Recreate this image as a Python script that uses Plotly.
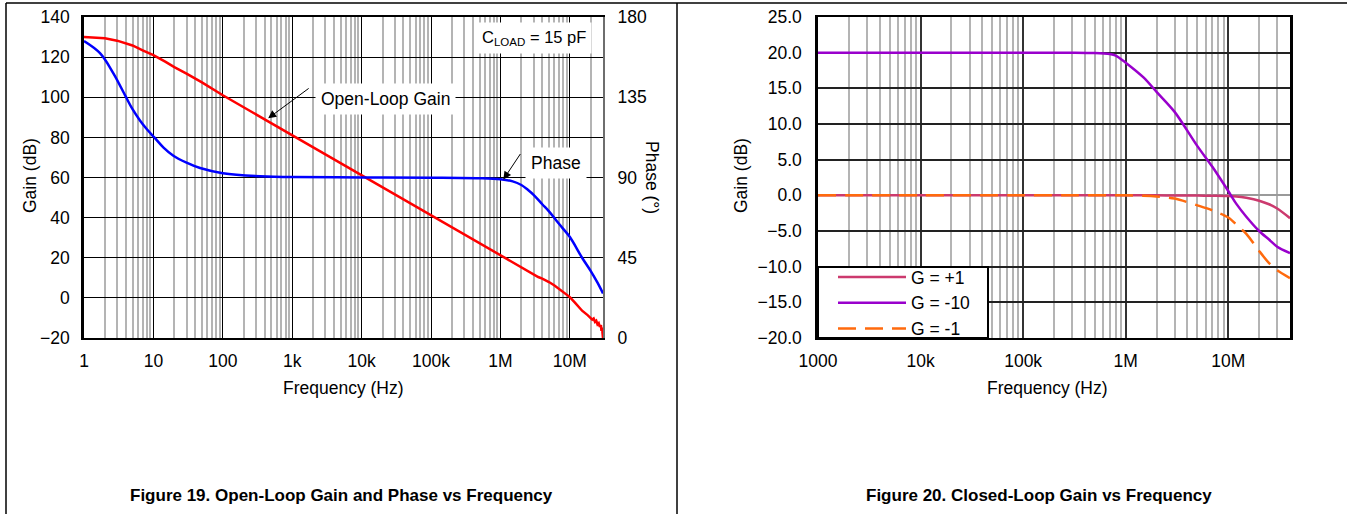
import math
import plotly.graph_objects as go

# ---------------- Data (Figure 19) ----------------
gain_freq = [1, 1.5, 2, 3, 4, 5, 7, 10, 15, 20, 30, 50, 100, 200, 500, 1e3, 2e3, 5e3, 1e4,
             2e4, 5e4, 1e5, 2e5, 5e5, 1e6, 2e6, 3e6, 3.5e6, 4e6, 4.5e6, 5e6, 6e6, 7e6, 8e6,
             1e7, 1.2e7, 1.5e7, 1.8e7, 2e7, 2.1e7, 2.2e7, 2.3e7, 2.4e7, 2.5e7, 2.6e7, 2.7e7,
             2.8e7, 2.85e7, 2.9e7, 2.95e7, 3e7]
gain_db = [130.0, 129.8, 129.4, 128.2, 127.0, 125.8, 123.4, 121.0, 117.6, 115.0, 111.8, 107.4,
           101.0, 95.0, 87.2, 81.2, 75.2, 67.3, 61.2, 55.2, 47.3, 41.3, 35.3, 27.4, 21.4, 15.2,
           11.6, 10.4, 9.6, 8.9, 7.9, 6.2, 4.5, 3.0, 0.4, -2.6, -6.4, -8.6, -9.8, -10.8, -10.3,
           -12.0, -11.4, -13.2, -12.6, -14.5, -13.6, -16.5, -14.8, -17.5, -20.0]

phase_freq = [1, 1.7, 2.65, 4, 5, 6.4, 8, 10.3, 14, 19.4, 30, 47, 100, 430, 1e3, 1e4, 1e5,
              5e5, 1e6, 1.5e6, 2e6, 2.5e6, 3e6, 4e6, 5e6, 6.5e6, 8e6, 1e7, 1.5e7, 2e7, 2.5e7,
              3e7]
phase_deg = [166.5, 159.7, 148.4, 135.3, 128.3, 122.0, 117.2, 112.5, 106.8, 102.2, 98.3,
             95.3, 92.4, 90.5, 90.3, 90.0, 89.9, 89.6, 89.0, 87.8, 85.8, 83.0, 80.3, 75.0,
             71.0, 65.5, 61.2, 56.6, 45.0, 37.5, 31.0, 25.0]

left_tick_vals = [1, 10, 100, 1e3, 1e4, 1e5, 1e6, 1e7]
left_tick_text = ["1", "10", "100", "1k", "10k", "100k", "1M", "10M"]
phase_tick_vals = [0, 45, 90, 135, 180]

# ---------------- Data (Figure 20) ----------------
cl_freq = [1e3, 1e4, 1e5, 3e5, 5e5, 7e5, 8e5, 1e6, 1.5e6, 2e6, 3e6, 5e6, 7e6, 1e7,
           1.2e7, 1.5e7, 2e7, 2.5e7, 3e7, 4e7]
g_plus1 = [0.0, 0.0, 0.0, 0.0, 0.0, 0.0, 0.0, 0.0, 0.0, 0.0, -0.02, -0.04, -0.05, -0.08,
           -0.15, -0.35, -0.75, -1.25, -1.85, -3.2]
g_minus10 = [20.0, 20.0, 20.0, 20.0, 19.95, 19.8, 19.6, 18.6, 16.5, 14.5, 11.7, 6.9, 4.0,
             0.6, -1.2, -3.0, -5.0, -6.2, -7.2, -8.1]
g_minus1 = [0.0, 0.0, 0.0, 0.0, 0.0, 0.0, 0.0, 0.0, -0.05, -0.15, -0.45, -1.4, -2.1, -3.1,
            -4.1, -5.4, -7.8, -9.5, -10.5, -11.6]

right_tick_vals = [1e3, 1e4, 1e5, 1e6, 1e7]
right_tick_text = ["1000", "10k", "100k", "1M", "10M"]

# ---------------- Geometry helpers ----------------
W, H = 1347, 514
FONT = "Liberation Sans, Arial, sans-serif"
FS = 17.5


def px(xp):
    return xp / W


def py(yp):
    return 1 - yp / H


def minor_vals(lo_exp, hi_exp):
    out = []
    for e in range(lo_exp, hi_exp + 1):
        for m in range(2, 10):
            out.append(m * 10 ** e)
    return out


fig = go.Figure()

fig.add_trace(go.Scatter(x=gain_freq, y=gain_db, mode="lines", xaxis="x", yaxis="y",
                         line=dict(color="#FF0000", width=2.5), showlegend=False))
fig.add_trace(go.Scatter(x=phase_freq, y=phase_deg, mode="lines", xaxis="x", yaxis="y2",
                         line=dict(color="#0000FF", width=2.5, shape="spline", smoothing=1.0),
                         showlegend=False))

fig.add_trace(go.Scatter(x=cl_freq, y=g_plus1, mode="lines", xaxis="x2", yaxis="y3",
                         name="G = +1",
                         line=dict(color="#CC3A6E", width=2.5, shape="spline", smoothing=0.8)))
fig.add_trace(go.Scatter(x=cl_freq, y=g_minus10, mode="lines", xaxis="x2", yaxis="y3",
                         name="G = -10",
                         line=dict(color="#9900CC", width=2.5, shape="spline", smoothing=0.8)))
fig.add_trace(go.Scatter(x=cl_freq, y=g_minus1, mode="lines", xaxis="x2", yaxis="y3",
                         name="G = -1",
                         line=dict(color="#FF6A0D", width=2.5, dash="18px,9px",
                                   shape="spline", smoothing=0.8)))

y_dom = [py(338), py(17)]
tickfont = dict(family=FONT, size=FS, color="black")
common_x = dict(type="log", showgrid=True, gridcolor="#000000", gridwidth=1,
                showline=True, linecolor="black", linewidth=2, mirror=True,
                ticks="outside", ticklen=6, tickcolor="rgba(0,0,0,0)",
                tickfont=tickfont, zeroline=False, automargin=False)

fig.update_layout(
    width=W, height=H,
    margin=dict(l=0, r=0, t=0, b=0, pad=0, autoexpand=False),
    paper_bgcolor="white", plot_bgcolor="white",
    font=dict(family=FONT, size=FS, color="black"),
    xaxis=dict(common_x, domain=[px(84), px(603)], anchor="y",
               range=[0, math.log10(3e7)], tickmode="array",
               tickvals=left_tick_vals, ticktext=left_tick_text,
               minor=dict(tickmode="array", tickvals=minor_vals(0, 7), showgrid=True,
                          gridcolor="#B4B4B4", gridwidth=2, ticks="")),
    yaxis=dict(domain=y_dom, anchor="x", range=[-20, 140], dtick=20,
               showgrid=True, gridcolor="#000000", gridwidth=1, zeroline=False,
               showline=True, linecolor="black", linewidth=2.5, automargin=False,
               ticks="outside", ticklen=8, tickcolor="rgba(0,0,0,0)", tickfont=tickfont),
    yaxis2=dict(overlaying="y", side="right", anchor="x", range=[0, 180],
                tickmode="array", tickvals=phase_tick_vals, showgrid=False, zeroline=False,
                showline=True, linecolor="#6E6E6E", linewidth=2, automargin=False,
                ticks="outside", ticklen=9, tickcolor="rgba(0,0,0,0)", tickfont=tickfont),
    xaxis2=dict(common_x, domain=[px(818), px(1290)], anchor="y3",
                range=[3, math.log10(4e7)], tickmode="array",
                tickvals=right_tick_vals, ticktext=right_tick_text,
                gridcolor="#333333", gridwidth=1.5,
                minor=dict(tickmode="array", tickvals=minor_vals(3, 7), showgrid=True,
                           gridcolor="#B4B4B4", gridwidth=2, ticks="")),
    yaxis3=dict(domain=y_dom, anchor="x2", range=[-20, 25], dtick=5, tickformat=".1f",
                showgrid=True, gridcolor="#222222", gridwidth=1.5,
                zeroline=True, zerolinecolor="#9A9A9A", zerolinewidth=2,
                showline=True, linecolor="black", linewidth=2.5, mirror=True, automargin=False,
                ticks="outside", ticklen=10, tickcolor="rgba(0,0,0,0)", tickfont=tickfont),
    legend=dict(x=px(833), y=py(303), xanchor="left", yanchor="middle",
                bgcolor="rgba(0,0,0,0)", borderwidth=0,
                font=dict(family=FONT, size=FS, color="black"),
                itemwidth=68, tracegroupgap=0),
)

C = dict(xref="paper", yref="paper", showarrow=False, xanchor="center", yanchor="middle")
annots = []
# axis titles
annots.append(dict(C, text="Gain (dB)", x=px(30), y=py(176), textangle=-90))
annots.append(dict(C, text="Phase (°)", x=px(652), y=py(177), textangle=90))
annots.append(dict(C, text="Frequency (Hz)", x=px(343), y=py(388)))
annots.append(dict(C, text="Gain (dB)", x=px(741), y=py(176), textangle=-90))
annots.append(dict(C, text="Frequency (Hz)", x=px(1047), y=py(388)))
# captions
annots.append(dict(C, text="<b>Figure 19. Open-Loop Gain and Phase vs Frequency</b>",
                   x=px(341), y=py(495), font=dict(size=17)))
annots.append(dict(C, text="<b>Figure 20. Closed-Loop Gain vs Frequency</b>",
                   x=px(1039), y=py(495), font=dict(size=17)))
# labels in left chart
annots.append(dict(C, text="Open-Loop Gain", x=px(385), y=py(99),
                   bgcolor="white", borderpad=5))
annots.append(dict(C, text="Phase", x=px(556), y=py(163),
                   bgcolor="white", borderpad=5))
annots.append(dict(C, text="C<sub>LOAD</sub> = 15 pF", x=px(534), y=py(38),
                   bgcolor="white", borderpad=5, font=dict(size=16.5)))
# arrows
annots.append(dict(text="", x=math.log10(450), y=89.5, xref="x", yref="y",
                   showarrow=True, ax=42, ay=-31, arrowhead=2, arrowsize=1.6,
                   arrowwidth=1, arrowcolor="black"))
annots.append(dict(text="", x=math.log10(1.1e6), y=59.0, xref="x", yref="y",
                   showarrow=True, ax=18, ay=-27, arrowhead=2, arrowsize=1.6,
                   arrowwidth=1, arrowcolor="black"))
fig.update_layout(annotations=annots)

# page frame lines and legend box
frame = dict(type="line", xref="paper", yref="paper", line=dict(color="black", width=1.5))
fig.update_layout(shapes=[
    dict(frame, x0=px(6), x1=1, y0=py(3), y1=py(3)),
    dict(frame, x0=px(6), x1=px(6), y0=py(3), y1=0),
    dict(frame, x0=px(677), x1=px(677), y0=py(3), y1=0),
    dict(type="rect", xref="paper", yref="paper", x0=px(818), x1=px(988),
         y0=py(338), y1=py(267), fillcolor="white", layer="above",
         line=dict(color="black", width=2)),
])

fig.write_html("out.html", config={"displayModeBar": False},
               post_script="document.body.style.margin='0px';document.body.style.overflow='hidden';")
